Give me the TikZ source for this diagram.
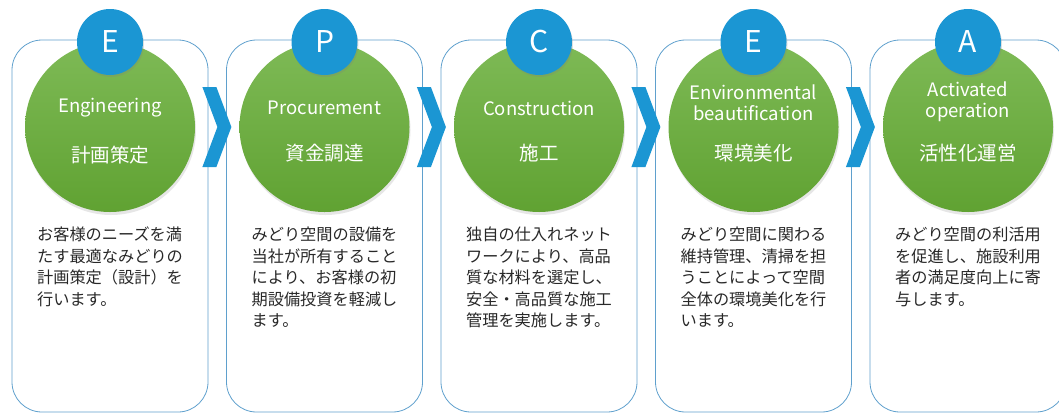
\documentclass[tikz,border=0pt]{standalone}
\usepackage{fontspec}
\setmainfont{Noto Sans CJK JP}
\usetikzlibrary{shadows}

\definecolor{framec}{RGB}{95,160,205}
\definecolor{letterblue}{RGB}{27,150,211}
\definecolor{greentop}{RGB}{126,186,86}
\definecolor{greenbot}{RGB}{96,162,50}
\definecolor{desctext}{RGB}{40,40,40}

\tikzset{
  frame/.style={draw=framec, line width=0.8pt, rounded corners=30pt,
    minimum width=196pt, minimum height=372pt},
  greendisc/.style={circle, minimum size=170pt, top color=greentop, bottom color=greenbot,
    drop shadow={opacity=0.2, shadow xshift=1pt, shadow yshift=-3pt}},
  letterdisc/.style={circle, minimum size=66pt, fill=letterblue, text=white,
    font=\fontsize{30pt}{30pt}\selectfont,
    drop shadow={opacity=0.25, shadow xshift=1pt, shadow yshift=-2pt}},
  entitle/.style={text=white, align=center, font=\fontsize{18.5pt}{20.5pt}\selectfont},
  jptitle/.style={text=white, font=\fontsize{19.5pt}{20pt}\selectfont},
  desc/.style={anchor=north, align=left, inner sep=0pt, text=desctext,
    font=\fontsize{16.2pt}{21.5pt}\selectfont},
  chevron/.style={fill=letterblue}
}

\begin{document}
\begin{tikzpicture}[x=1pt, y=-1pt]
  \useasboundingbox (0,0) rectangle (1059,413);

  % Frames
  \node (box1) at (110,226) [frame] {};
  \node (box2) at (324.5,226) [frame] {};
  \node (box3) at (539,226) [frame] {};
  \node (box4) at (753.5,226) [frame] {};
  \node (box5) at (968,226) [frame] {};

  % Green discs with titles
  \node (disc1) at (110,127) [greendisc] {};
  \node (title1) at (110,108) [entitle] {Engineering};
  \node (sub1) at (110,155) [jptitle] {計画策定};

  \node (disc2) at (324.5,127) [greendisc] {};
  \node (title2) at (324.5,108) [entitle] {Procurement};
  \node (sub2) at (324.5,153) [jptitle] {資金調達};

  \node (disc3) at (539,127) [greendisc] {};
  \node (title3) at (539,108) [entitle] {Construction};
  \node (sub3) at (539,153) [jptitle] {施工};

  \node (disc4) at (753.5,127) [greendisc] {};
  \node (title4) at (753.5,103) [entitle] {Environmental\\beautification};
  \node (sub4) at (753.5,153) [jptitle] {環境美化};

  \node (disc5) at (968,127) [greendisc] {};
  \node (title5) at (968,102) [entitle] {Activated\\operation};
  \node (sub5) at (968,153) [jptitle] {活性化運営};

  % Letters
  \node (letter1) at (110,42) [letterdisc] {E};
  \node (letter2) at (324.5,42) [letterdisc] {P};
  \node (letter3) at (539,42) [letterdisc] {C};
  \node (letter4) at (753.5,42) [letterdisc] {E};
  \node (letter5) at (968,42) [letterdisc] {A};

  % Chevrons between the frames
  \coordinate (arr1) at (box1.east |- disc1.center);
  \coordinate (arr2) at (box2.east |- disc2.center);
  \coordinate (arr3) at (box3.east |- disc3.center);
  \coordinate (arr4) at (box4.east |- disc4.center);
  \fill[chevron] ([shift={(-6,-40)}]arr1) -- ++(14,0) -- ++(15,40) -- ++(-15,40) -- ++(-14,0) -- ++(15,-40) -- cycle;
  \fill[chevron] ([shift={(-6,-40)}]arr2) -- ++(14,0) -- ++(15,40) -- ++(-15,40) -- ++(-14,0) -- ++(15,-40) -- cycle;
  \fill[chevron] ([shift={(-6,-40)}]arr3) -- ++(14,0) -- ++(15,40) -- ++(-15,40) -- ++(-14,0) -- ++(15,-40) -- cycle;
  \fill[chevron] ([shift={(-6,-40)}]arr4) -- ++(14,0) -- ++(15,40) -- ++(-15,40) -- ++(-14,0) -- ++(15,-40) -- cycle;

  % Descriptions
  \node (text1) at (110,227) [desc] {お客様のニーズを満\\たす最適なみどりの\\計画策定（設計）を\\行います。};
  \node (text2) at (324.5,227) [desc] {みどり空間の設備を\\当社が所有すること\\により、お客様の初\\期設備投資を軽減し\\ます。};
  \node (text3) at (539,227) [desc] {独自の仕入れネット\\ワークにより、高品\\質な材料を選定し、\\安全・高品質な施工\\管理を実施します。};
  \node (text4) at (753.5,227) [desc] {みどり空間に関わる\\維持管理、清掃を担\\うことによって空間\\全体の環境美化を行\\います。};
  \node (text5) at (968,227) [desc] {みどり空間の利活用\\を促進し、施設利用\\者の満足度向上に寄\\与します。};
\end{tikzpicture}
\end{document}
